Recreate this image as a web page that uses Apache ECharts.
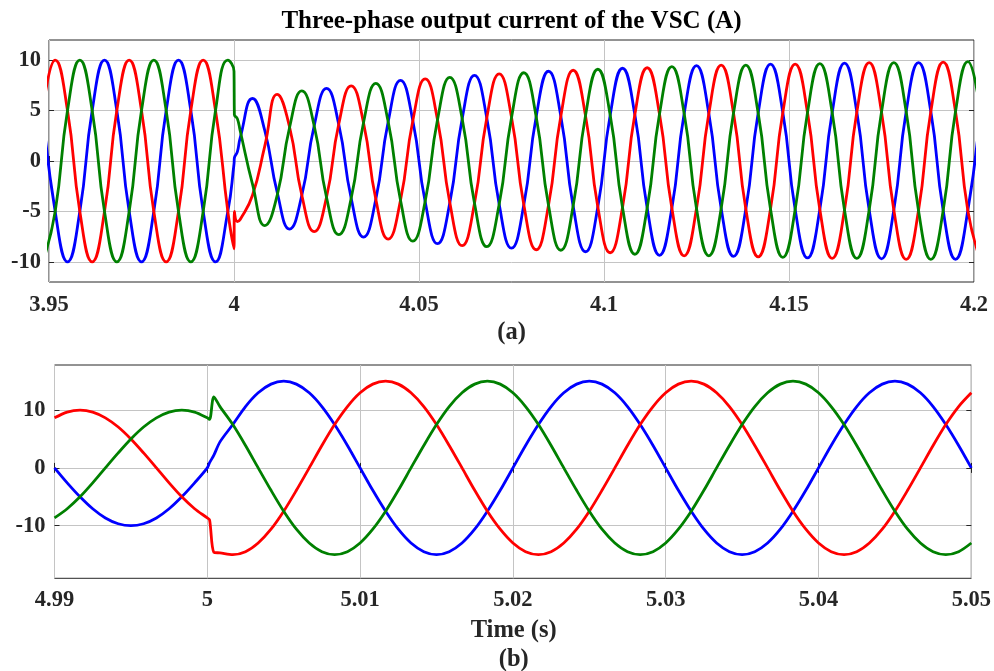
<!DOCTYPE html>
<html><head><meta charset="utf-8">
<script src="https://cdn.jsdelivr.net/npm/echarts@6/dist/echarts.min.js"></script>
<style>html,body{margin:0;padding:0;background:#fff}#c{width:994px;height:671px}</style>
</head><body><div id="c"></div>
<script>
// ---------- (a) 3.95 s - 4.2 s ----------
const topTime = [3.94833,3.95167,3.955,3.95833,3.96167,3.965,3.96833,3.97167,3.975,3.97833,3.98167,3.985,3.98833,3.99167,3.995,3.99833,
  4.0,4.0001,4.0009,4.00167,
  4.005,4.00833,4.01167,4.015,4.01833,4.02167,4.025,4.02833,4.03167,4.035,4.03833,4.04167,4.045,4.04833,4.05167,4.055,4.05833,4.06167,
  4.065,4.06833,4.07167,4.075,4.07833,4.08167,4.085,4.08833,4.09167,4.095,4.09833,4.10167,4.105,4.10833,4.11167,4.115,4.11833,4.12167,
  4.125,4.12833,4.13167,4.135,4.13833,4.14167,4.145,4.14833,4.15167,4.155,4.15833,4.16167,4.165,4.16833,4.17167,4.175,4.17833,4.18167,
  4.185,4.18833,4.19167,4.195,4.19833,4.20167];
const topBlue = [5,-5,-10,-5,5,10,5,-5,-10,-5,5,10,5,-5,-10,-5,
  -0.3,0.3,0.9,2.3,
  6.2,3.0,-3.1,-6.75,-3.4,3.5, 7.2,3.6,-3.7,-7.55,-3.8,3.9, 8.0,4.0,-4.05,-8.2,-4.15,4.2,
  8.5,4.25,-4.3,-8.65,-4.35,4.4, 8.9,4.45,-4.5,-9.0,-4.55,4.55, 9.2,4.6,-4.65,-9.35,-4.7,4.7,
  9.45,4.7,-4.7,-9.45,-4.75,4.75, 9.6,4.8,-4.8,-9.6,-4.8,4.8, 9.7,4.85,-4.85,-9.7,-4.85,4.9,
  9.75,4.9,-4.9,-9.75,-4.9,4.9];
const topRed = [5,10,5,-5,-10,-5,5,10,5,-5,-10,-5,5,10,5,-5,
  -8.7,-5.0,-6.0,-5.8,
  -3.4,1.5,6.6,3.4,-3.4,-7.0, -3.6,3.7,7.45,3.8,-3.8,-7.75, -3.9,4.0,8.15,4.1,-4.15,-8.4,
  -4.2,4.3,8.65,4.35,-4.35,-8.8, -4.4,4.45,9.0,4.5,-4.55,-9.1, -4.6,4.6,9.25,4.65,-4.65,-9.4,
  -4.7,4.7,9.5,4.75,-4.75,-9.5, -4.75,4.8,9.6,4.8,-4.8,-9.65, -4.85,4.85,9.75,4.85,-4.85,-9.75,
  -4.9,4.9,9.8,4.9,-4.9,-9.8];
const topGreen = [-10,-5,5,10,5,-5,-10,-5,5,10,5,-5,-10,-5,5,10,
  8.9,4.6,4.2,3.0,
  -2.3,-6.4,-3.4,3.3,6.95,3.5, -3.6,-7.3,-3.7,3.8,7.7,3.9, -3.9,-7.95,-4.0,4.1,8.3,4.2,
  -4.2,-8.5,-4.3,4.3,8.75,4.4, -4.4,-8.85,-4.45,4.5,9.1,4.55, -4.6,-9.25,-4.65,4.65,9.35,4.7,
  -4.7,-9.4,-4.7,4.75,9.5,4.75, -4.75,-9.55,-4.8,4.8,9.65,4.8, -4.85,-9.65,-4.85,4.85,9.75,4.9,
  -4.9,-9.75,-4.9,4.9,9.85,4.9];
const topXTicks = [3.95,4.0,4.05,4.1,4.15,4.2];
const topYTicks = [-10,-5,0,5,10];

// ---------- (b) 4.99 s - 5.05 s ----------
const botTime = [4.99,4.99083,4.99167,4.9925,4.99333,4.99417,4.995,4.99583,4.99667,4.9975,4.99833,4.99917,5.0,
  5.00015,5.00043,5.00083,
  5.00167,5.0025,5.00333,5.00417,5.005,5.00583,5.00667,5.0075,5.00833,5.00917,5.01,5.01083,
  5.01167,5.0125,5.01333,5.01417,5.015,5.01583,5.01667,5.0175,5.01833,5.01917,5.02,5.02083,
  5.02167,5.0225,5.02333,5.02417,5.025,5.02583,5.02667,5.0275,5.02833,5.02917,5.03,5.03083,
  5.03167,5.0325,5.03333,5.03417,5.035,5.03583,5.03667,5.0375,5.03833,5.03917,5.04,5.04083,
  5.04167,5.0425,5.04333,5.04417,5.045,5.04583,5.04667,5.0475,5.04833,5.04917,5.05];
const botBlue = [0,-2.59,-5,-7.07,-8.66,-9.66,-10,-9.66,-8.66,-7.07,-5,-2.59,0,
  0.9,2.2,4.5,
  7.5,10.61,12.99,14.49,
  15,14.49,12.99,10.61,7.5,3.88,0,-3.88,-7.5,-10.61,-12.99,-14.49,-15,-14.49,-12.99,-10.61,-7.5,-3.88,0,3.88,7.5,10.61,12.99,14.49,
  15,14.49,12.99,10.61,7.5,3.88,0,-3.88,-7.5,-10.61,-12.99,-14.49,-15,-14.49,-12.99,-10.61,-7.5,-3.88,0,3.88,7.5,10.61,12.99,14.49,
  15,14.49,12.99,10.61,7.5,3.88,0];
const botRed = [8.66,9.66,10,9.66,8.66,7.07,5,2.59,0,-2.59,-5,-7.07,-8.66,
  -9.0,-14.6,-14.7,
  -15,-14.49,-12.99,-10.61,-7.5,-3.88,0,3.88,7.5,10.61,12.99,14.49,
  15,14.49,12.99,10.61,7.5,3.88,0,-3.88,-7.5,-10.61,-12.99,-14.49,-15,-14.49,-12.99,-10.61,-7.5,-3.88,0,3.88,7.5,10.61,12.99,14.49,
  15,14.49,12.99,10.61,7.5,3.88,0,-3.88,-7.5,-10.61,-12.99,-14.49,-15,-14.49,-12.99,-10.61,-7.5,-3.88,0,3.88,7.5,10.61,12.99];
const botGreen = [-8.66,-7.07,-5,-2.59,0,2.59,5,7.07,8.66,9.66,10,9.66,8.66,
  8.4,12.3,10.6,
  7.5,3.88,0,-3.88,-7.5,-10.61,-12.99,-14.49,-15,-14.49,-12.99,-10.61,-7.5,-3.88,0,3.88,7.5,10.61,12.99,14.49,
  15,14.49,12.99,10.61,7.5,3.88,0,-3.88,-7.5,-10.61,-12.99,-14.49,-15,-14.49,-12.99,-10.61,-7.5,-3.88,0,3.88,7.5,10.61,12.99,14.49,
  15,14.49,12.99,10.61,7.5,3.88,0,-3.88,-7.5,-10.61,-12.99,-14.49,-15,-14.49,-12.99];
const botXTicks = [4.99,5.0,5.01,5.02,5.03,5.04,5.05];
const botYTicks = [-10,0,10];

const titleText = 'Three-phase output current of the VSC (A)';
const xName = 'Time (s)';
const colors = {blue:'#0000ff', red:'#ff0000', green:'#008000'};

const FONT = '"Liberation Serif","Times New Roman",serif';
const zip = (t, v) => t.map((x, i) => [x, v[i]]);
const fmt = v => String(+(+v).toFixed(3));

function xAxes(gi, min, max, ticks, margin) {
  return [
    {type:'value', gridIndex:gi, position:'bottom', min, max,
     axisLine:{show:false},
     axisTick:{show:true, inside:true, length:5, customValues:ticks, lineStyle:{color:'#262626'}},
     axisLabel:{customValues:ticks, formatter:fmt, color:'#262626', fontFamily:FONT, fontWeight:'bold', fontSize:22.5, margin},
     splitLine:{show:true, lineStyle:{color:'#c4c4c4', width:1}}},
    {type:'value', gridIndex:gi, position:'top', min, max,
     axisLine:{show:false},
     axisTick:{show:true, inside:true, length:5, customValues:ticks, lineStyle:{color:'#262626'}},
     axisLabel:{show:false}, splitLine:{show:false}}
  ];
}
function yAxes(gi, min, max, ticks, margin) {
  return [
    {type:'value', gridIndex:gi, position:'left', min, max,
     axisLine:{show:false},
     axisTick:{show:true, inside:true, length:5, customValues:ticks, lineStyle:{color:'#262626'}},
     axisLabel:{customValues:ticks, formatter:fmt, color:'#262626', fontFamily:FONT, fontWeight:'bold', fontSize:22.5, margin},
     splitLine:{show:true, lineStyle:{color:'#c4c4c4', width:1}}},
    {type:'value', gridIndex:gi, position:'right', min, max,
     axisLine:{show:false},
     axisTick:{show:true, inside:true, length:5, customValues:ticks, lineStyle:{color:'#262626'}},
     axisLabel:{show:false}, splitLine:{show:false}}
  ];
}
function line(xi, yi, t, v, color, smooth) {
  return {type:'line', xAxisIndex:xi, yAxisIndex:yi, data:zip(t, v), smooth,
    showSymbol:false, symbol:'none', clip:true, lineStyle:{color, width:2.8}, itemStyle:{color}};
}

const chart = echarts.init(document.getElementById('c'), null, {renderer:'canvas'});
chart.setOption({
  animation:false,
  backgroundColor:'#fff',
  grid:[
    {left:49, right:20, top:40, height:242, show:true, borderColor:'#262626', borderWidth:1, backgroundColor:'transparent'},
    {left:54.5, right:21.3, top:365, height:213.3, show:true, borderColor:'#262626', borderWidth:1, backgroundColor:'transparent'}
  ],
  xAxis:[...xAxes(0, 3.95, 4.2, topXTicks, 12), ...xAxes(1, 4.99, 5.05, botXTicks, 10)],
  yAxis:[...yAxes(0, -12, 12, topYTicks, 8), ...yAxes(1, -19.1, 17.8, botYTicks, 9)],
  series:[
    line(0,0,topTime,topBlue,colors.blue,0.5),
    line(0,0,topTime,topRed,colors.red,0.5),
    line(0,0,topTime,topGreen,colors.green,0.5),
    line(2,2,botTime,botBlue,colors.blue,0.3),
    line(2,2,botTime,botRed,colors.red,0.3),
    line(2,2,botTime,botGreen,colors.green,0.3)
  ],
  graphic:[
    {type:'text', x:511.5, y:22, style:{text:titleText, fontFamily:FONT, fontWeight:'bold', fontSize:25, fill:'#000', align:'center', verticalAlign:'middle'}},
    {type:'text', x:511.5, y:333, style:{text:'(a)', fontFamily:FONT, fontWeight:'bold', fontSize:24.5, fill:'#262626', align:'center', verticalAlign:'middle'}},
    {type:'text', x:513.7, y:631, style:{text:xName, fontFamily:FONT, fontWeight:'bold', fontSize:24.5, fill:'#262626', align:'center', verticalAlign:'middle'}},
    {type:'text', x:513.7, y:660, style:{text:'(b)', fontFamily:FONT, fontWeight:'bold', fontSize:24.5, fill:'#262626', align:'center', verticalAlign:'middle'}}
  ]
});
</script></body></html>
